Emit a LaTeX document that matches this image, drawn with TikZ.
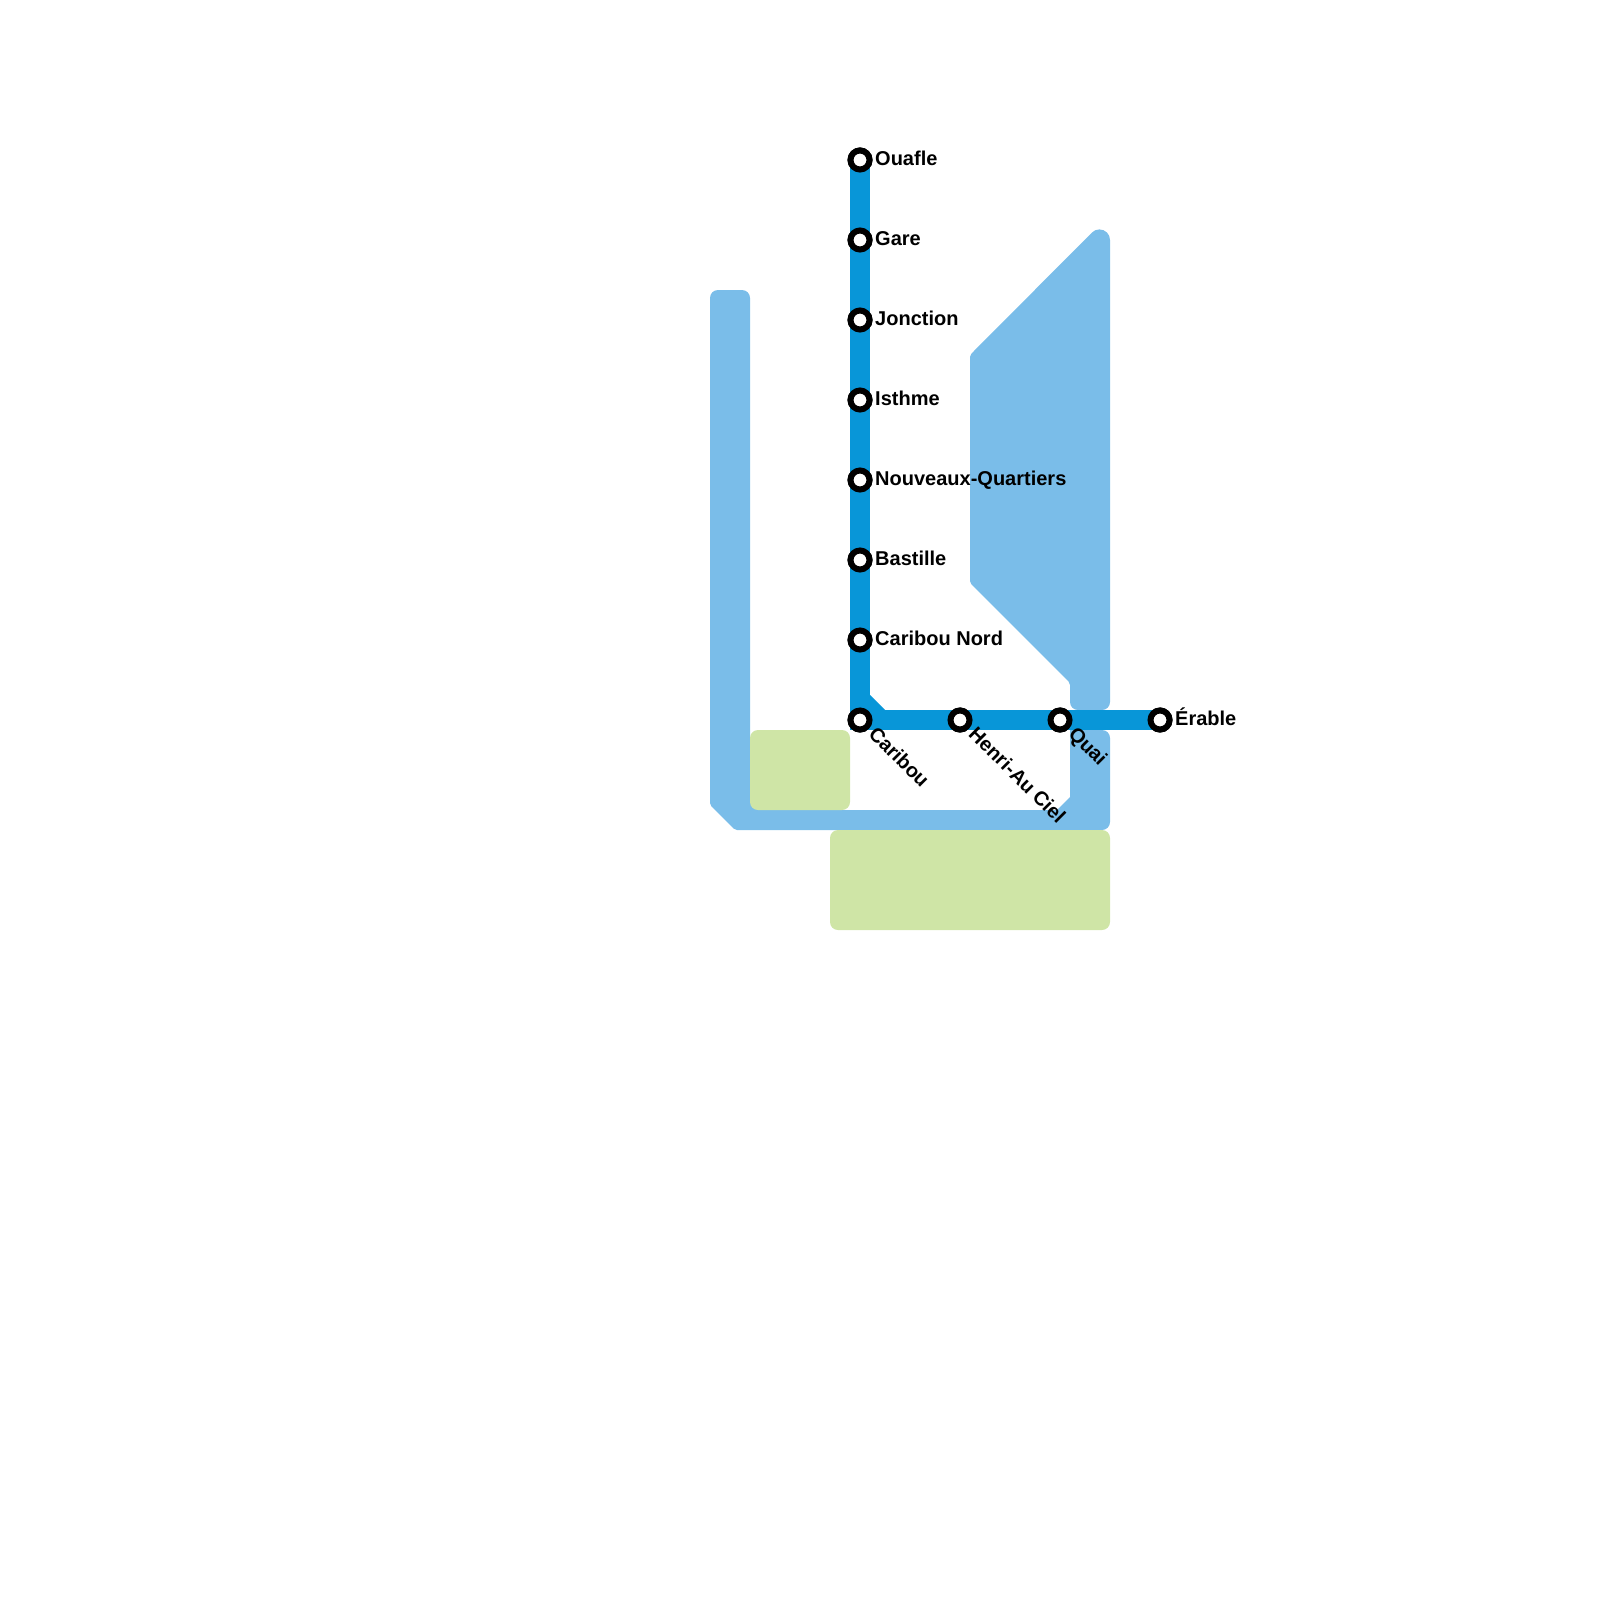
\documentclass[tikz,border=0pt]{standalone}
\usepackage{fontspec}
\setmainfont{Liberation Sans}
\usepackage{xcolor}
\usepackage{tikz}
\usetikzlibrary{positioning}
\definecolor{mapWater}{RGB}{122,189,233}
\definecolor{mapPark}{RGB}{207,229,166}
\definecolor{mapLine}{RGB}{8,150,216}

\begin{document}
\begin{tikzpicture}[
  x=1pt, y=-1pt,
  node distance=55pt,
  water/.style={fill=mapWater, rounded corners=8pt},
  park/.style={fill=mapPark, rounded corners=8pt},
  metro/.style={draw=mapLine, line width=20pt, miter limit=10},
  stn/.style={circle, draw=black, fill=white, line width=6pt, minimum size=19pt, inner sep=0pt},
  lab/.style={inner sep=0pt, text height=14pt, text depth=4pt, font=\fontsize{20}{24}\selectfont\bfseries},
  slant/.style={inner sep=0pt, xshift=7.5pt, yshift=-15pt, rotate=-45, anchor=base west, font=\fontsize{20}{24}\selectfont\bfseries}
]
\useasboundingbox (0,0) rectangle (1600,1600);
% river
\fill[water] (710,290) -- (750,290) [sharp corners] -- (750,800) -- (760,800) -- (760,810) -- (1057,810) -- (1070,797) -- (1070,730) [rounded corners=8pt] -- (1110,730) -- (1110,830) [rounded corners=2pt] -- (735,830) -- (710,805) [rounded corners=8pt] -- cycle;
\fill[water] (1110,400) [sharp corners] -- (1110,240) .. controls (1110,234.1) and (1105.3,229.4) .. (1099.4,229.4) .. controls (1096.6,229.4) and (1094,230.5) .. (1092,232.5) [rounded corners=2pt] -- (970,355) -- (970,583) -- (1070,683) [rounded corners=8pt] -- (1070,710) -- (1110,710) -- cycle;
% parks
\fill[park] (750,730) rectangle (850,810);
\fill[park] (830,830) rectangle (1110,930);
% stations
\node[stn] (ouafle) at (860,160) {};
\node[stn, below=of ouafle] (gare) {};
\node[stn, below=of gare] (jonction) {};
\node[stn, below=of jonction] (isthme) {};
\node[stn, below=of isthme] (nouveaux) {};
\node[stn, below=of nouveaux] (bastille) {};
\node[stn, below=of bastille] (caribounord) {};
\node[stn, below=of caribounord] (caribou) {};
\node[stn, right=75pt of caribou] (henri) {};
\node[stn, right=75pt of henri] (quai) {};
\node[stn, right=75pt of quai] (erable) {};
% line
\draw[metro] (ouafle.center) -- (caribou.center) -- (erable.center);
\fill[mapLine] (870,695) -- (885,710) -- (870,710) -- cycle;
% redraw stations on top of the line
\node[stn] at (ouafle) {};
\node[stn] at (gare) {};
\node[stn] at (jonction) {};
\node[stn] at (isthme) {};
\node[stn] at (nouveaux) {};
\node[stn] at (bastille) {};
\node[stn] at (caribounord) {};
\node[stn] at (caribou) {};
\node[stn] at (henri) {};
\node[stn] at (quai) {};
\node[stn] at (erable) {};
% labels
\node[lab, right=2.5pt of ouafle] (ouaflelab) {Ouafle};
\node[lab, right=2.5pt of gare] (garelab) {Gare};
\node[lab, right=2.5pt of jonction] (jonctionlab) {Jonction};
\node[lab, right=2.5pt of isthme] (isthmelab) {Isthme};
\node[lab, right=2.5pt of nouveaux] (nouveauxlab) {Nouveaux-Quartiers};
\node[lab, right=2.5pt of bastille] (bastillelab) {Bastille};
\node[lab, right=2.5pt of caribounord] (caribounordlab) {Caribou Nord};
\node[lab, right=2.5pt of erable] (erablelab) {Érable};
\node[slant] (cariboulab) at (caribou.center) {Caribou};
\node[slant] (henrilab) at (henri.center) {Henri-Au Ciel};
\node[slant] (quailab) at (quai.center) {Quai};
\end{tikzpicture}
\end{document}
